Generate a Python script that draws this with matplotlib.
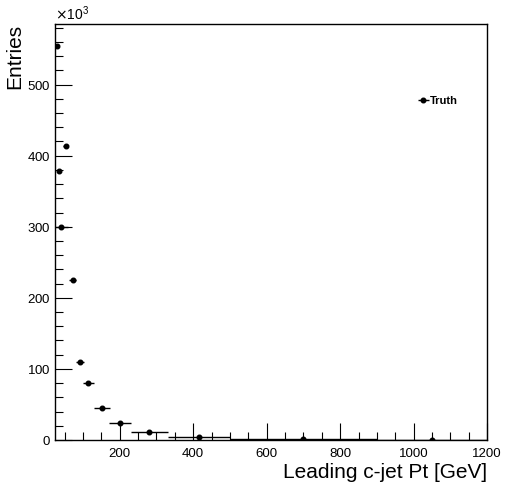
import matplotlib.pyplot as plt
from matplotlib.ticker import MultipleLocator

plt.rcParams['font.family'] = ['Liberation Sans', 'DejaVu Sans']

# leading c-jet pt: bin centres, half widths [GeV] and entries per bin
pt_center = [30, 35, 41, 53, 72, 92, 115, 152, 202, 281, 416, 700, 1050]
pt_halfwidth = [3, 2.5, 18, 7, 9, 10, 15, 21, 30, 50, 84, 200, 150]
entries = [555000, 378000, 300000, 413000, 225000, 110000, 80000,
           44600, 24400, 11700, 3800, 1000, 200]

fig = plt.figure(figsize=(5.08, 4.88), dpi=100)
ax = fig.add_axes([0.109, 0.0984, 0.850, 0.852])

ax.errorbar(pt_center, entries, xerr=pt_halfwidth, fmt='o', color='black',
            markersize=3.3, elinewidth=1, capsize=0, label='Truth')

ax.set_xlim(25, 1200)
ax.set_ylim(0, 585000)

ax.xaxis.set_major_locator(MultipleLocator(200))
ax.xaxis.set_minor_locator(MultipleLocator(50))
ax.yaxis.set_major_locator(MultipleLocator(100000))
ax.yaxis.set_minor_locator(MultipleLocator(20000))
ax.ticklabel_format(axis='y', style='sci', scilimits=(3, 3), useMathText=True)
ax.yaxis.get_offset_text().set_fontsize(10)

ax.tick_params(which='both', direction='in', top=False, right=False,
               labelsize=9.5, width=0.8)
ax.tick_params(which='major', length=12)
ax.tick_params(which='minor', length=6)
ax.tick_params(axis='x', pad=6)

for s in ax.spines.values():
    s.set_linewidth(1)

ax.set_xlabel('Leading c-jet Pt [GeV]', fontsize=15, loc='right', labelpad=2)
ax.set_ylabel('Entries', fontsize=15, loc='top', labelpad=2)

leg = ax.legend(loc='center left', bbox_to_anchor=(0.835, 0.815), frameon=False,
                handlelength=0.3, handletextpad=0.5, borderpad=0,
                prop={'weight': 'bold', 'size': 8})

plt.savefig('out.png', dpi=100)
